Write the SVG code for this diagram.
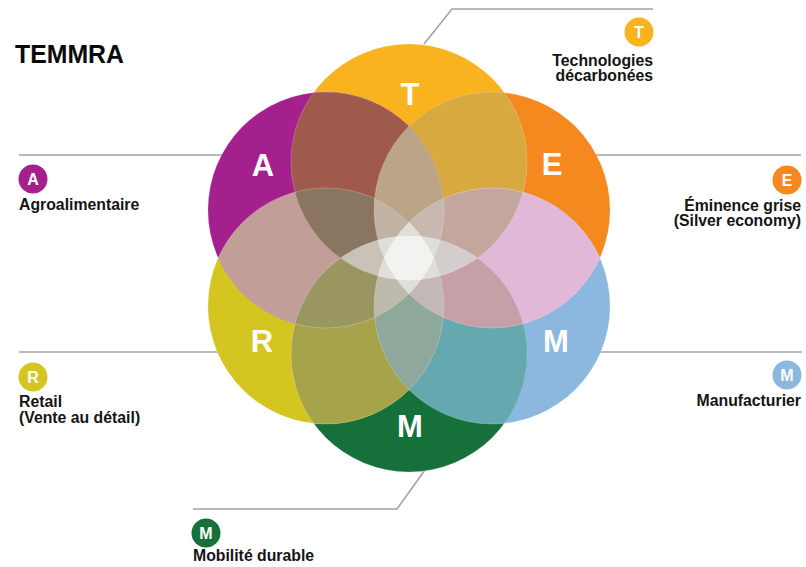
<svg xmlns="http://www.w3.org/2000/svg" width="806" height="567" viewBox="0 0 806 567">
<style>
.lbl{font-family:"Liberation Sans",Arial,sans-serif;font-weight:bold;font-size:31px;fill:#fff;text-anchor:middle}
.ico{font-family:"Liberation Sans",Arial,sans-serif;font-weight:bold;font-size:16px;fill:#fff;text-anchor:middle}
.cap{font-family:"Liberation Sans",Arial,sans-serif;font-weight:bold;font-size:15.8px;fill:#141414}
.ln{fill:none;stroke:#a3a3a3;stroke-width:1.6}
.edge{fill:none;stroke:#fff;stroke-opacity:0.22;stroke-width:1}
</style>
<defs>
<circle id="kT" cx="409" cy="162" r="118"/>
<circle id="kE" cx="492.1" cy="210" r="118"/>
<circle id="kMr" cx="492.1" cy="306" r="118"/>
<circle id="kMb" cx="409" cy="354" r="118"/>
<circle id="kR" cx="325.9" cy="306" r="118"/>
<circle id="kA" cx="325.9" cy="210" r="118"/>
<clipPath id="cT"><use href="#kT"/></clipPath>
<clipPath id="cE"><use href="#kE"/></clipPath>
<clipPath id="cMr"><use href="#kMr"/></clipPath>
<clipPath id="cMb"><use href="#kMb"/></clipPath>
<clipPath id="cR"><use href="#kR"/></clipPath>
<clipPath id="cA"><use href="#kA"/></clipPath>
</defs>
<rect width="806" height="567" fill="#fff"/>
<text x="15" y="63" font-family="'Liberation Sans',Arial,sans-serif" font-weight="bold" font-size="26" fill="#0a0a0a" textLength="109" lengthAdjust="spacingAndGlyphs">TEMMRA</text>
<g id="connectors">
<polyline class="ln" points="424,44 452,9 653,9"/>
<line class="ln" x1="19" y1="155" x2="240" y2="155"/>
<line class="ln" x1="580" y1="155" x2="801" y2="155"/>
<line class="ln" x1="19" y1="352" x2="240" y2="352"/>
<line class="ln" x1="580" y1="352" x2="802" y2="352"/>
<polyline class="ln" points="193,509 397,509 425,470"/>
</g>
<g id="flower">
<use href="#kT" fill="#F9B31E"/>
<use href="#kE" fill="#F5891F"/>
<use href="#kMr" fill="#8CB8E0"/>
<use href="#kMb" fill="#16703A"/>
<use href="#kR" fill="#D5C520"/>
<use href="#kA" fill="#A4208D"/>
<!-- pairs -->
<use href="#kT" fill="#D7A93F" clip-path="url(#cE)"/>
<use href="#kE" fill="#E2B8D9" clip-path="url(#cMr)"/>
<use href="#kMr" fill="#65A8B0" clip-path="url(#cMb)"/>
<use href="#kMb" fill="#A7A34A" clip-path="url(#cR)"/>
<use href="#kR" fill="#C19E98" clip-path="url(#cA)"/>
<use href="#kA" fill="#A05A4B" clip-path="url(#cT)"/>
<!-- triples -->
<g clip-path="url(#cA)"><use href="#kT" fill="#BCA486" clip-path="url(#cE)"/></g>
<g clip-path="url(#cT)"><use href="#kE" fill="#C4A79C" clip-path="url(#cMr)"/></g>
<g clip-path="url(#cE)"><use href="#kMr" fill="#C69FA7" clip-path="url(#cMb)"/></g>
<g clip-path="url(#cMr)"><use href="#kMb" fill="#8FA89C" clip-path="url(#cR)"/></g>
<g clip-path="url(#cMb)"><use href="#kR" fill="#9A9662" clip-path="url(#cA)"/></g>
<g clip-path="url(#cR)"><use href="#kA" fill="#8A7660" clip-path="url(#cT)"/></g>
<!-- quads -->
<g clip-path="url(#cT)"><g clip-path="url(#cE)"><use href="#kMr" fill="#D3CDCE" clip-path="url(#cMb)"/></g></g>
<g clip-path="url(#cA)"><g clip-path="url(#cT)"><use href="#kE" fill="#C9B8B0" clip-path="url(#cMr)"/></g></g>
<g clip-path="url(#cR)"><g clip-path="url(#cA)"><use href="#kT" fill="#C2B3A2" clip-path="url(#cE)"/></g></g>
<g clip-path="url(#cMb)"><g clip-path="url(#cR)"><use href="#kA" fill="#C8C3B6" clip-path="url(#cT)"/></g></g>
<g clip-path="url(#cMr)"><g clip-path="url(#cMb)"><use href="#kR" fill="#BDB9AB" clip-path="url(#cA)"/></g></g>
<g clip-path="url(#cE)"><g clip-path="url(#cMr)"><use href="#kMb" fill="#C4B7B7" clip-path="url(#cR)"/></g></g>
<!-- fives -->
<g fill="#E1DEDA">
<g clip-path="url(#cA)"><g clip-path="url(#cT)"><g clip-path="url(#cE)"><use href="#kR" clip-path="url(#cMr)"/></g></g></g>
<g clip-path="url(#cT)"><g clip-path="url(#cE)"><g clip-path="url(#cMr)"><use href="#kMb" clip-path="url(#cA)"/></g></g></g>
<g clip-path="url(#cE)"><g clip-path="url(#cMr)"><g clip-path="url(#cMb)"><use href="#kR" clip-path="url(#cT)"/></g></g></g>
<g clip-path="url(#cMr)"><g clip-path="url(#cMb)"><g clip-path="url(#cR)"><use href="#kA" clip-path="url(#cE)"/></g></g></g>
<g clip-path="url(#cMb)"><g clip-path="url(#cR)"><g clip-path="url(#cA)"><use href="#kT" clip-path="url(#cMr)"/></g></g></g>
<g clip-path="url(#cR)"><g clip-path="url(#cA)"><g clip-path="url(#cT)"><use href="#kE" clip-path="url(#cMb)"/></g></g></g>
</g>
<!-- center -->
<g clip-path="url(#cT)"><g clip-path="url(#cE)"><g clip-path="url(#cMr)"><g clip-path="url(#cMb)"><use href="#kR" fill="#F2F2F0" clip-path="url(#cA)"/></g></g></g></g>
<use class="edge" href="#kT"/><use class="edge" href="#kE"/><use class="edge" href="#kMr"/>
<use class="edge" href="#kMb"/><use class="edge" href="#kR"/><use class="edge" href="#kA"/>
</g>
<g id="node-T">
<text class="lbl" x="410" y="105">T</text>
<circle cx="639" cy="32" r="14.5" fill="#F9B31E"/><text class="ico" x="639" y="37.8">T</text>
<text class="cap" x="653" y="65.5" text-anchor="end">Technologies</text>
<text class="cap" x="653" y="81" text-anchor="end">décarbonées</text>
</g>
<g id="node-A">
<text class="lbl" x="263" y="176">A</text>
<circle cx="33" cy="179" r="14.5" fill="#A4208D"/><text class="ico" x="33" y="184.8">A</text>
<text class="cap" x="19" y="210">Agroalimentaire</text>
</g>
<g id="node-E">
<text class="lbl" x="552" y="175">E</text>
<circle cx="787" cy="180" r="14.5" fill="#F5891F"/><text class="ico" x="787" y="185.8">E</text>
<text class="cap" x="801" y="210.5" text-anchor="end">Éminence grise</text>
<text class="cap" x="801" y="226" text-anchor="end">(Silver economy)</text>
</g>
<g id="node-R">
<text class="lbl" x="262" y="352">R</text>
<circle cx="33" cy="377" r="14.5" fill="#D5C520"/><text class="ico" x="33" y="382.8">R</text>
<text class="cap" x="19" y="407">Retail</text>
<text class="cap" x="19" y="423">(Vente au détail)</text>
</g>
<g id="node-Mr">
<text class="lbl" x="556" y="352">M</text>
<circle cx="787" cy="375" r="14.5" fill="#8CB8E0"/><text class="ico" x="787" y="380.8">M</text>
<text class="cap" x="801" y="406" text-anchor="end">Manufacturier</text>
</g>
<g id="node-Mb">
<text class="lbl" x="410" y="437">M</text>
<circle cx="206" cy="533" r="14.5" fill="#16703A"/><text class="ico" x="206" y="538.8">M</text>
<text class="cap" x="193" y="561">Mobilité durable</text>
</g>
</svg>
